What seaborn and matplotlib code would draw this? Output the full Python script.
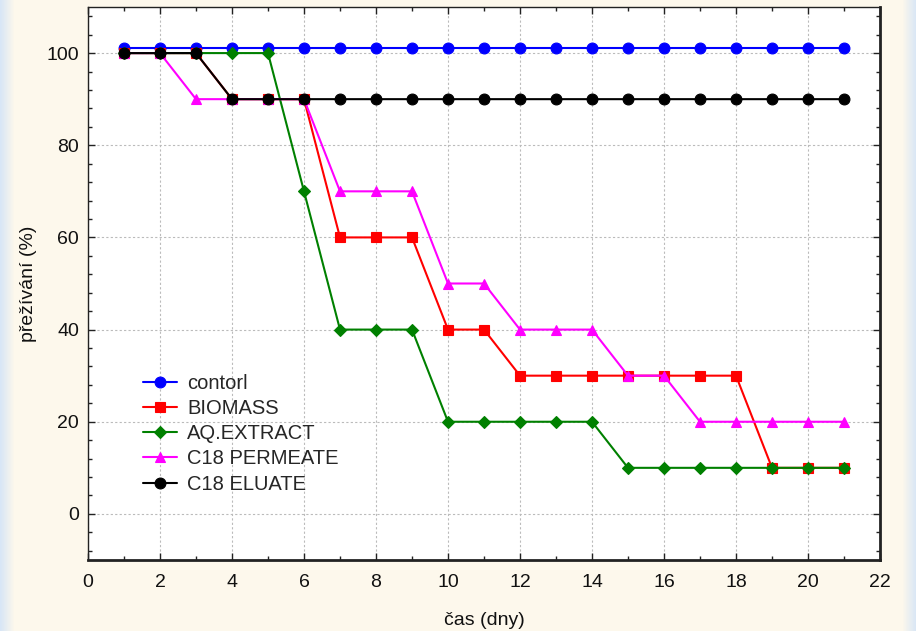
import numpy as np
import pandas as pd
import matplotlib
matplotlib.use("Agg")
import matplotlib.pyplot as plt
import seaborn as sns
from matplotlib.ticker import MultipleLocator

days = list(range(1, 22))
control = [101] * 21
biomass = [100, 100, 100, 90, 90, 90, 60, 60, 60, 40, 40, 30, 30, 30, 30, 30, 30, 30, 10, 10, 10]
aq_extract = [100, 100, 100, 100, 100, 70, 40, 40, 40, 20, 20, 20, 20, 20, 10, 10, 10, 10, 10, 10, 10]
c18_permeate = [100, 100, 90, 90, 90, 90, 70, 70, 70, 50, 50, 40, 40, 40, 30, 30, 20, 20, 20, 20, 20]
c18_eluate = [100, 100, 100, 90, 90, 90, 90, 90, 90, 90, 90, 90, 90, 90, 90, 90, 90, 90, 90, 90, 90]

series_names = ["contorl", "BIOMASS", "AQ.EXTRACT", "C18 PERMEATE", "C18 ELUATE"]
series_values = [control, biomass, aq_extract, c18_permeate, c18_eluate]
colors = ["#0000ff", "#ff0000", "#008000", "#ff00ff", "#000000"]
markers = ["o", "s", "D", "^", "o"]
msizes = [7.8, 7.5, 5.8, 7.2, 7.8]

x_ticks = list(range(0, 23, 2))
y_ticks = [0, 20, 40, 60, 80, 100]

sns.set_theme(style="white")
plt.rcParams['font.family'] = ['Liberation Sans', 'DejaVu Sans']

fig = plt.figure(figsize=(9.16, 6.31), dpi=100)
bg_color = "#fdf8ec"
fig.patch.set_facecolor(bg_color)

# background gradient on edges
bgax = fig.add_axes([0, 0, 1, 1], zorder=-10)
w = 916
grad = np.ones((1, w, 3))
cream = np.array([0xfd, 0xf8, 0xec]) / 255
blue = np.array([0xd8, 0xe6, 0xf6]) / 255
xs = np.arange(w)
t = np.clip(1 - xs / 14, 0, 1)
t = np.maximum(t, np.clip((xs - 902) / 14, 0, 1))
grad[0] = cream[None, :] * (1 - t[:, None]) + blue[None, :] * t[:, None]
bgax.imshow(grad, aspect="auto", extent=[0, 1, 0, 1])
bgax.axis("off")

ax = fig.add_axes([88 / 916, 1 - 560 / 631, (880 - 88) / 916, (560 - 7) / 631])
ax.set_facecolor("white")

for name, vals, c, m, ms in zip(series_names, series_values, colors, markers, msizes):
    df = pd.DataFrame({"day": days, "val": vals})
    sns.lineplot(data=df, x="day", y="val", ax=ax, color=c, marker=m,
                 markersize=ms, markeredgecolor=c, markeredgewidth=0.8,
                 linewidth=1.5, label=name)

ax.set_xlim(0, 22)
ax.set_ylim(-10, 110)
ax.set_xticks(x_ticks)
ax.set_yticks(y_ticks)
ax.xaxis.set_minor_locator(MultipleLocator(1))
ax.yaxis.set_minor_locator(MultipleLocator(4))
ax.tick_params(which="both", direction="in", top=True, right=True, bottom=True, left=True,
               labelsize=14, colors="#222222", labelcolor="#111111")
ax.tick_params(which="major", length=5, width=1)
ax.tick_params(which="minor", length=3, width=1)
ax.tick_params(axis="x", which="major", pad=10)
ax.tick_params(axis="y", which="major", pad=6.5)
ax.grid(True, which="major", color="#bbbbbb", linestyle=(0, (2, 2)), linewidth=0.8)
for side, sp in ax.spines.items():
    sp.set_color("#222222")
    sp.set_linewidth(1.0)
ax.spines["bottom"].set_linewidth(2.0)
ax.spines["right"].set_linewidth(2.0)

ax.set_xlabel("čas (dny)", fontsize=14, labelpad=15, color="#111111")
ax.set_ylabel("přežívání (%)", fontsize=14, labelpad=7, color="#111111")

leg = ax.legend(loc="upper left", bbox_to_anchor=(0.0694, 0.337), frameon=False,
                fontsize=14.5, handlelength=1.7, labelspacing=0.31, handletextpad=0.5,
                borderaxespad=0, borderpad=0)

fig.savefig("out.png", dpi=100, facecolor=fig.get_facecolor())
